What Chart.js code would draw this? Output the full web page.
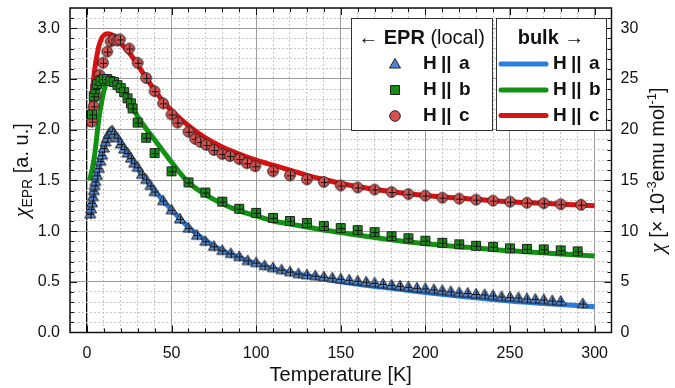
<!DOCTYPE html>
<html>
<head>
<meta charset="utf-8">
<script src="https://cdn.jsdelivr.net/npm/chart.js@4.4.1/dist/chart.umd.min.js"></script>
<style>
html, body { margin: 0; padding: 0; background: #fff; }
#wrap { width: 675px; height: 388px; }
</style>
</head>
<body>
<div id="wrap"><canvas id="chart" width="675" height="388"></canvas></div>
<script>
// EPR intensity (left axis, a. u.)
let tempA = [2, 2.5, 3, 3.5, 4, 4.5, 5, 6, 7, 8, 9, 10, 11, 12, 13, 14, 15, 16, 18, 20, 22, 24, 26, 28, 30, 32.5, 35, 37.5, 40,
  45, 50, 55, 60, 65, 70, 75, 80, 85, 90, 95, 100, 105, 110, 115, 120, 125, 130, 135, 140, 145, 150, 155, 160, 165, 170, 175,
  180, 185, 190, 195, 200, 205, 210, 215, 220, 225, 230, 235, 240, 245, 250, 255, 260, 265, 270, 275, 280, 293]
let eprA = [1.17, 1.22, 1.28, 1.34, 1.40, 1.45, 1.49, 1.55, 1.62, 1.69, 1.75, 1.82, 1.88, 1.92, 1.96, 1.98, 1.99, 1.96, 1.92, 1.86, 1.81, 1.77, 1.72, 1.67, 1.63, 1.56, 1.51, 1.45, 1.39,
  1.30, 1.21, 1.12, 1.03, 0.96, 0.90, 0.85, 0.81, 0.78, 0.75, 0.71, 0.69, 0.66, 0.64, 0.62, 0.60, 0.58, 0.57, 0.56, 0.55, 0.54, 0.53, 0.52, 0.51, 0.50, 0.49, 0.48,
  0.47, 0.46, 0.45, 0.44, 0.435, 0.425, 0.415, 0.405, 0.395, 0.39, 0.38, 0.375, 0.365, 0.355, 0.35, 0.345, 0.335, 0.33, 0.325, 0.315, 0.31, 0.285]

let tempB = [3, 4, 5, 6, 8, 10, 12, 14, 16, 18, 20, 22, 24, 26, 27, 30, 35, 40,
  50, 60, 70, 80, 90, 100, 110, 120, 130, 140, 150, 160, 170, 180, 190, 200, 210, 220, 230, 240, 250, 260, 270, 280, 290]
let eprB = [2.15, 2.33, 2.40, 2.45, 2.48, 2.50, 2.50, 2.48, 2.47, 2.44, 2.41, 2.37, 2.31, 2.26, 2.21, 2.07, 1.92, 1.77,
  1.59, 1.48, 1.38, 1.29, 1.22, 1.18, 1.13, 1.10, 1.08, 1.05, 1.03, 1.01, 0.99, 0.95, 0.93, 0.905, 0.885, 0.87, 0.855, 0.845, 0.83, 0.825, 0.82, 0.81, 0.80]

let tempC = [3, 4, 5, 7.5, 9.5, 12, 14, 16, 18, 19.5, 25, 30, 35, 40, 45, 50, 53.5,
  60, 64, 67, 70.5, 75, 80, 84.5, 90, 94.5, 99.5, 110, 120, 130, 140, 150, 160, 170, 180, 190, 200, 210, 220, 230, 240, 250, 260, 270, 280, 292]
let eprC = [2.08, 2.23, 2.33, 2.54, 2.66, 2.77, 2.87, 2.89, 2.88, 2.89, 2.80, 2.66, 2.51, 2.38, 2.26, 2.15, 2.07,
  1.98, 1.91, 1.88, 1.85, 1.80, 1.76, 1.74, 1.71, 1.67, 1.64, 1.59, 1.55, 1.51, 1.485, 1.45, 1.43, 1.41, 1.385, 1.365, 1.35, 1.33, 1.32, 1.31, 1.30, 1.29, 1.28, 1.275, 1.265, 1.26]

// bulk susceptibility (right axis, 10^-3 emu/mol)
let tempBulk = [1.5, 2, 3, 4, 5, 6, 7, 8, 9, 10, 12, 14, 16, 18, 20, 25, 30, 35, 40, 45, 50,
  60, 70, 80, 90, 100, 110, 120, 130, 140, 150, 175, 200, 225, 250, 275, 300]
let bulkA = [11.3, 11.7, 12.7, 13.9, 14.9, 15.8, 16.6, 17.4, 18.0, 18.6, 19.4, 19.8, 19.7, 19.3, 18.8, 17.6, 16.2, 15.1, 14.0, 13.0, 12.1,
  10.4, 9.1, 8.1, 7.4, 6.8, 6.3, 5.9, 5.6, 5.3, 5.0, 4.45, 3.95, 3.5, 3.1, 2.8, 2.55]
let bulkB = [15.0, 15.3, 16.0, 16.9, 18.1, 19.6, 21.0, 22.1, 23.0, 23.8, 24.8, 25.0, 24.9, 24.6, 24.1, 22.7, 21.3, 20.1, 19.0, 17.9, 16.8,
  14.8, 13.6, 12.7, 12.0, 11.5, 11.0, 10.7, 10.4, 10.1, 9.85, 9.25, 8.75, 8.4, 8.05, 7.8, 7.55]
let bulkC = [20.3, 21.3, 23.3, 25.1, 26.4, 27.4, 28.2, 28.7, 29.1, 29.3, 29.45, 29.4, 29.2, 28.8, 28.5, 27.6, 26.4, 25.1, 23.9, 22.8, 21.9,
  20.4, 19.2, 18.3, 17.6, 17.0, 16.5, 16.0, 15.5, 15.1, 14.7, 14.0, 13.5, 13.2, 12.9, 12.7, 12.5]

let legendRows = ['a', 'b', 'c']

const F = '"Liberation Sans", Arial, sans-serif';
const pts = (xs, ys) => xs.map((x, i) => ({x: x, y: ys[i]}));
const isMajor = (v, step) => Math.abs(v / step - Math.round(v / step)) < 1e-6;

// marker images (with the small error cross, like the original)
function makeMarker(shape, fill, cross) {
    let c = document.createElement('canvas');
    c.width = 16; c.height = 16;
    let g = c.getContext('2d');
    g.fillStyle = fill;
    g.strokeStyle = '#222';
    g.lineWidth = 1;
    g.beginPath();
    if (shape == 'tri') {
        g.moveTo(8, 2.5); g.lineTo(13.5, 12); g.lineTo(2.5, 12); g.closePath();
    } else if (shape == 'sq') {
        g.rect(3.5, 3.5, 9, 9);
    } else {
        g.arc(8, 8, 5.3, 0, Math.PI * 2);
    }
    g.fill(); g.stroke();
    if (cross) {
        g.beginPath();
        g.strokeStyle = '#111';
        g.moveTo(8.5, shape == 'tri' ? 5 : 4); g.lineTo(8.5, 13);
        g.moveTo(5, 8.5); g.lineTo(12, 8.5);
        g.stroke();
    }
    return c;
}

const colA = '#2b7de0', colB = '#139113', colC = '#d61212';
const fillA = '#4f86d4', fillB = '#178c17', fillC = '#d65050';
const mk = {
    a: makeMarker('tri', fillA, true), b: makeMarker('sq', fillB, true), c: makeMarker('circ', fillC, true)
};
const mkLegend = {
    a: makeMarker('tri', fillA, false), b: makeMarker('sq', fillB, false), c: makeMarker('circ', fillC, false)
};
const lineCols = {a: colA, b: colB, c: colC};

function drawRich(g, parts, x, y, align) {
    let w = 0;
    parts.forEach(p => { g.font = p.font; w += g.measureText(p.t).width; });
    let cx = align == 'center' ? x - w / 2 : x;
    parts.forEach(p => {
        g.font = p.font;
        g.fillText(p.t, cx, y + (p.dy || 0));
        cx += g.measureText(p.t).width;
    });
}

// frame + inward ticks on all four sides
const frameTicks = {
    id: 'frameTicks',
    afterDatasetsDraw(chart) {
        const g = chart.ctx, a = chart.chartArea;
        const sx = chart.scales.x, sy = chart.scales.y, sy2 = chart.scales.y2;
        g.save();
        g.strokeStyle = '#111';
        g.lineWidth = 1;
        g.beginPath();
        sx.ticks.forEach(t => {
            if (t.value <= sx.min || t.value >= sx.max) return;
            const p = Math.round(sx.getPixelForValue(t.value)) + 0.5;
            const len = isMajor(t.value, 50) ? 7 : 4;
            g.moveTo(p, a.bottom); g.lineTo(p, a.bottom - len);
            g.moveTo(p, a.top); g.lineTo(p, a.top + len);
        });
        sy.ticks.forEach(t => {
            if (t.value <= sy.min || t.value >= sy.max) return;
            const p = Math.round(sy.getPixelForValue(t.value)) + 0.5;
            const len = isMajor(t.value, 0.5) ? 7 : 4;
            g.moveTo(a.left, p); g.lineTo(a.left + len, p);
        });
        sy2.ticks.forEach(t => {
            if (t.value <= sy2.min || t.value >= sy2.max) return;
            const p = Math.round(sy2.getPixelForValue(t.value)) + 0.5;
            const len = isMajor(t.value, 5) ? 7 : 4;
            g.moveTo(a.right, p); g.lineTo(a.right - len, p);
        });
        g.stroke();
        g.lineWidth = 1.5;
        g.strokeRect(a.left, a.top, a.right - a.left, a.bottom - a.top);
        g.restore();
    },
    afterDraw(chart) {
        const g = chart.ctx, a = chart.chartArea;
        g.save();
        g.fillStyle = '#111';
        g.textBaseline = 'alphabetic';
        // x title
        g.font = '20px ' + F;
        g.textAlign = 'center';
        g.fillText('Temperature [K]', (a.left + a.right) / 2, 381);
        g.textAlign = 'left';
        // left title
        g.save();
        g.translate(21, (a.top + a.bottom) / 2);
        g.rotate(-Math.PI / 2);
        drawRich(g, [
            {t: 'χ', font: 'italic 22px "Liberation Serif", serif'},
            {t: 'EPR', font: '14px ' + F, dy: 4},
            {t: ' [a. u.]', font: '20px ' + F}
        ], 0, 7, 'center');
        g.restore();
        // right title
        g.save();
        g.translate(657, (a.top + a.bottom) / 2);
        g.rotate(-Math.PI / 2);
        drawRich(g, [
            {t: 'χ', font: 'italic 22px "Liberation Serif", serif'},
            {t: ' [× 10', font: '20px ' + F},
            {t: '-3', font: '13px ' + F, dy: -8},
            {t: 'emu mol', font: '20px ' + F},
            {t: '-1', font: '13px ' + F, dy: -8},
            {t: ']', font: '20px ' + F}
        ], 0, 7, 'center');
        g.restore();

        // legend boxes
        g.fillStyle = '#fff';
        g.strokeStyle = '#333';
        g.lineWidth = 1;
        g.fillRect(351, 18, 141, 112);
        g.strokeRect(351.5, 18.5, 141, 112);
        g.fillRect(496, 18, 110, 112);
        g.strokeRect(496.5, 18.5, 110, 112);
        g.fillStyle = '#111';
        g.textBaseline = 'middle';
        drawRich(g, [{t: '← ', font: '20px ' + F}, {t: 'EPR', font: 'bold 20px ' + F}, {t: ' (local)', font: '20px ' + F}], 421.5, 38, 'center');
        drawRich(g, [{t: 'bulk', font: 'bold 20px ' + F}, {t: ' →', font: '20px ' + F}], 551, 38, 'center');
        const rowY = [64, 90, 115.5];
        legendRows.forEach((r, i) => {
            const y = rowY[i];
            g.drawImage(mkLegend[r], 387, Math.round(y) - 8);
            g.font = 'bold 19px ' + F;
            g.fillStyle = '#111';
            g.fillText('H', 423, y); g.fillText('||', 441, y); g.fillText(r, 459, y);
            g.fillText('H', 553, y); g.fillText('||', 571, y); g.fillText(r, 589, y);
            g.strokeStyle = lineCols[r];
            g.lineWidth = 5;
            g.lineCap = 'round';
            g.beginPath(); g.moveTo(501, y); g.lineTo(546, y); g.stroke();
        });
        g.restore();
    }
};

const gridCol = (c, step) => {
    if (!c.tick) return '#999';
    if (Math.abs(c.tick.value) < 1e-9) return '#000';
    return isMajor(c.tick.value, step) ? '#9c9c9c' : '#c6c6c6';
};
const gridDash = (c, step) => (c.tick && !isMajor(c.tick.value, step)) ? [2, 2] : [];
const noPad = s => { s.paddingTop = 0; s.paddingBottom = 0; s.paddingLeft = 0; s.paddingRight = 0; };

let ctx = document.getElementById('chart').getContext('2d');

let chart = new Chart(ctx, {
    type: 'scatter',
    data: {
        datasets: [
            {label: 'EPR H || a', data: pts(tempA, eprA), yAxisID: 'y', pointStyle: mk.a, order: 1},
            {label: 'EPR H || b', data: pts(tempB, eprB), yAxisID: 'y', pointStyle: mk.b, order: 1},
            {label: 'EPR H || c', data: pts(tempC, eprC), yAxisID: 'y', pointStyle: mk.c, order: 1},
            {type: 'line', label: 'bulk H || a', data: pts(tempBulk, bulkA), yAxisID: 'y2', borderColor: colA, borderWidth: 5,
                pointRadius: 0, cubicInterpolationMode: 'monotone', fill: false, order: 2},
            {type: 'line', label: 'bulk H || b', data: pts(tempBulk, bulkB), yAxisID: 'y2', borderColor: colB, borderWidth: 5,
                pointRadius: 0, cubicInterpolationMode: 'monotone', fill: false, order: 2},
            {type: 'line', label: 'bulk H || c', data: pts(tempBulk, bulkC), yAxisID: 'y2', borderColor: colC, borderWidth: 5,
                pointRadius: 0, cubicInterpolationMode: 'monotone', fill: false, order: 2}
        ]
    },
    options: {
        responsive: false,
        animation: false,
        events: [],
        layout: {padding: {top: 8, left: 0, right: 0, bottom: 0}},
        plugins: {legend: {display: false}, tooltip: {enabled: false}},
        scales: {
            x: {
                type: 'linear', min: -10, max: 310,
                afterFit: s => { noPad(s); s.height = 55.5; },
                ticks: {
                    stepSize: 10, autoSkip: false, maxRotation: 0, padding: 11, color: '#111',
                    font: {family: F, size: 16},
                    callback: v => (isMajor(v, 50) && v >= 0 && v <= 300) ? String(v) : ''
                },
                grid: {drawTicks: false, color: c => gridCol(c, 50), lineWidth: c => (c.tick && c.tick.value === 0) ? 1.3 : 1},
                border: {display: false, dash: c => gridDash(c, 50)}
            },
            y: {
                type: 'linear', position: 'left', min: 0, max: 3.2,
                afterFit: s => { noPad(s); s.width = 70; },
                ticks: {
                    stepSize: 0.1, autoSkip: false, padding: 10, color: '#111',
                    font: {family: F, size: 16},
                    callback: v => isMajor(v, 0.5) && v <= 3.0001 ? v.toFixed(1) : ''
                },
                grid: {drawTicks: false, color: c => gridCol(c, 0.5), lineWidth: 1},
                border: {display: false, dash: c => gridDash(c, 0.5)}
            },
            y2: {
                type: 'linear', position: 'right', min: 0, max: 32,
                afterFit: s => { noPad(s); s.width = 63.5; },
                ticks: {
                    stepSize: 1, autoSkip: false, padding: 9, color: '#111',
                    font: {family: F, size: 16},
                    callback: v => isMajor(v, 5) && v <= 30 ? String(v) : ''
                },
                grid: {drawTicks: false, drawOnChartArea: false},
                border: {display: false}
            }
        }
    },
    plugins: [frameTicks]
});
</script>
</body>
</html>
